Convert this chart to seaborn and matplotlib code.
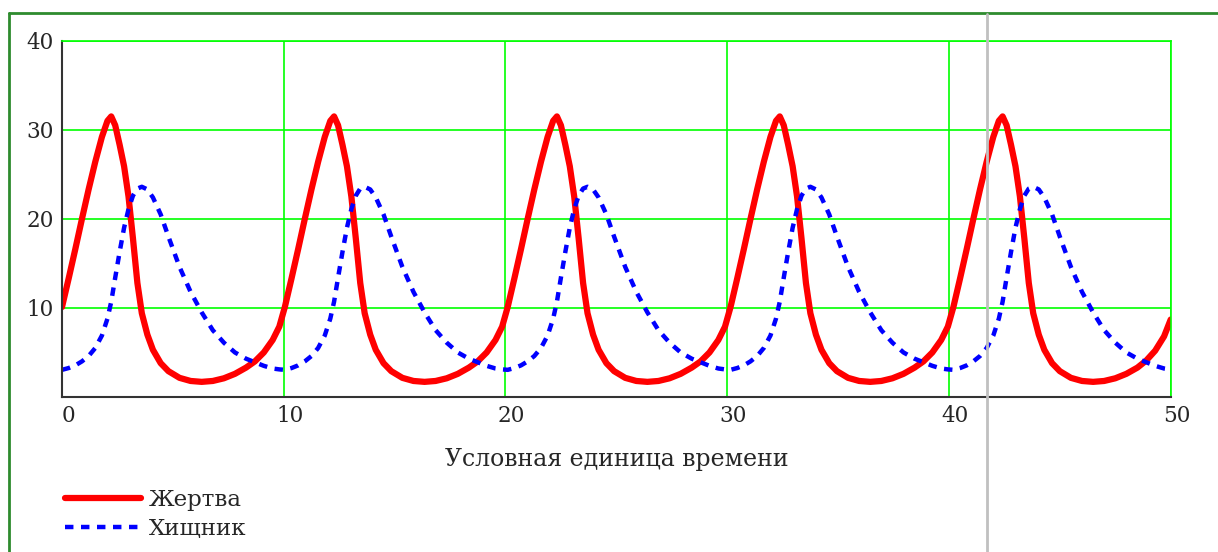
import pandas as pd
import seaborn as sns
import matplotlib.pyplot as plt
import matplotlib.transforms as mtransforms
from matplotlib.lines import Line2D

# time points (five cycles)
time = [
    0.00, 0.30, 0.60, 0.90, 1.20, 1.50, 1.80, 2.05, 2.22, 2.40, 2.60, 2.80, 3.00, 3.20, 3.40, 3.60,
    3.85, 4.10, 4.45, 4.80, 5.30, 5.80, 6.30, 6.80, 7.30, 7.80, 8.30, 8.70, 9.10, 9.50, 9.80,
    10.05, 10.35, 10.65, 10.95, 11.25, 11.55, 11.85, 12.10, 12.27, 12.45, 12.65, 12.85, 13.05, 13.25, 13.45, 13.65,
    13.90, 14.15, 14.50, 14.85, 15.35, 15.85, 16.35, 16.85, 17.35, 17.85, 18.35, 18.75, 19.15, 19.55, 19.85,
    20.10, 20.40, 20.70, 21.00, 21.30, 21.60, 21.90, 22.15, 22.32, 22.50, 22.70, 22.90, 23.10, 23.30, 23.50, 23.70,
    23.95, 24.20, 24.55, 24.90, 25.40, 25.90, 26.40, 26.90, 27.40, 27.90, 28.40, 28.80, 29.20, 29.60, 29.90,
    30.15, 30.45, 30.75, 31.05, 31.35, 31.65, 31.95, 32.20, 32.37, 32.55, 32.75, 32.95, 33.15, 33.35, 33.55, 33.75,
    34.00, 34.25, 34.60, 34.95, 35.45, 35.95, 36.45, 36.95, 37.45, 37.95, 38.45, 38.85, 39.25, 39.65, 39.95,
    40.20, 40.50, 40.80, 41.10, 41.40, 41.70, 42.00, 42.25, 42.42, 42.60, 42.80, 43.00, 43.20, 43.40, 43.60, 43.80,
    44.05, 44.30, 44.65, 45.00, 45.50, 46.00, 46.50, 47.00, 47.50, 48.00, 48.50, 48.90, 49.30, 49.70, 50.00,
]
prey = [
    10.1, 13.3, 16.6, 20.0, 23.3, 26.4, 29.2, 31.0, 31.5, 30.5, 28.3, 25.9, 22.5, 17.8, 12.8, 9.4,
    7.0, 5.3, 3.8, 2.9, 2.15, 1.8, 1.7, 1.8, 2.1, 2.6, 3.3, 4.0, 5.0, 6.4, 7.9,
    10.1, 13.3, 16.6, 20.0, 23.3, 26.4, 29.2, 31.0, 31.5, 30.5, 28.3, 25.9, 22.5, 17.8, 12.8, 9.4,
    7.0, 5.3, 3.8, 2.9, 2.15, 1.8, 1.7, 1.8, 2.1, 2.6, 3.3, 4.0, 5.0, 6.4, 7.9,
    10.1, 13.3, 16.6, 20.0, 23.3, 26.4, 29.2, 31.0, 31.5, 30.5, 28.3, 25.9, 22.5, 17.8, 12.8, 9.4,
    7.0, 5.3, 3.8, 2.9, 2.15, 1.8, 1.7, 1.8, 2.1, 2.6, 3.3, 4.0, 5.0, 6.4, 7.9,
    10.1, 13.3, 16.6, 20.0, 23.3, 26.4, 29.2, 31.0, 31.5, 30.5, 28.3, 25.9, 22.5, 17.8, 12.8, 9.4,
    7.0, 5.3, 3.8, 2.9, 2.15, 1.8, 1.7, 1.8, 2.1, 2.6, 3.3, 4.0, 5.0, 6.4, 7.9,
    10.1, 13.3, 16.6, 20.0, 23.3, 26.4, 29.2, 31.0, 31.5, 30.5, 28.3, 25.9, 22.5, 17.8, 12.8, 9.4,
    7.0, 5.3, 3.8, 2.9, 2.15, 1.8, 1.7, 1.8, 2.1, 2.6, 3.3, 4.1, 5.2, 6.8, 8.7,
]
predator = [
    3.05, 3.25, 3.55, 4.0, 4.6, 5.5, 6.9, 8.8, 10.7, 13.4, 16.3, 19.0, 21.1, 22.6, 23.4, 23.6,
    23.3, 22.4, 20.5, 18.0, 14.6, 11.8, 9.5, 7.5, 6.1, 5.0, 4.3, 3.9, 3.5, 3.2, 3.1,
    3.05, 3.25, 3.55, 4.0, 4.6, 5.5, 6.9, 8.8, 10.7, 13.4, 16.3, 19.0, 21.1, 22.6, 23.4, 23.6,
    23.3, 22.4, 20.5, 18.0, 14.6, 11.8, 9.5, 7.5, 6.1, 5.0, 4.3, 3.9, 3.5, 3.2, 3.1,
    3.05, 3.25, 3.55, 4.0, 4.6, 5.5, 6.9, 8.8, 10.7, 13.4, 16.3, 19.0, 21.1, 22.6, 23.4, 23.6,
    23.3, 22.4, 20.5, 18.0, 14.6, 11.8, 9.5, 7.5, 6.1, 5.0, 4.3, 3.9, 3.5, 3.2, 3.1,
    3.05, 3.25, 3.55, 4.0, 4.6, 5.5, 6.9, 8.8, 10.7, 13.4, 16.3, 19.0, 21.1, 22.6, 23.4, 23.6,
    23.3, 22.4, 20.5, 18.0, 14.6, 11.8, 9.5, 7.5, 6.1, 5.0, 4.3, 3.9, 3.5, 3.2, 3.1,
    3.05, 3.25, 3.55, 4.0, 4.6, 5.5, 6.9, 8.8, 10.7, 13.4, 16.3, 19.0, 21.1, 22.6, 23.4, 23.6,
    23.3, 22.4, 20.5, 18.0, 14.6, 11.8, 9.5, 7.5, 6.1, 5.0, 4.3, 3.9, 3.5, 3.2, 3.1,
]
x_ticks = [0, 10, 20, 30, 40, 50]
y_ticks = [10, 20, 30, 40]

df = pd.DataFrame({"t": time, "prey": prey, "predator": predator})

sns.set_style("white")
plt.rcParams["font.family"] = ["DejaVu Serif", "Liberation Serif"]

W, H = 1218, 552
fig = plt.figure(figsize=(W / 100, H / 100), dpi=100)
ax = fig.add_axes([62 / W, 1 - 397 / H, (1170.7 - 62) / W, (397 - 40.7) / H])

sns.lineplot(data=df, x="t", y="prey", ax=ax, color="#ff0000", lw=4.5,
             label="Жертва", solid_joinstyle="round")
sns.lineplot(data=df, x="t", y="predator", ax=ax, color="#0000ff", lw=3.2,
             label="Хищник")
ax.lines[1].set_dashes((1.9, 1.7))

ax.set_xlim(0, 50)
ax.set_ylim(0, 40)
ax.set_xticks(x_ticks)
ax.set_yticks(y_ticks)
ax.grid(True, color="#00ff00", lw=1.2)
ax.set_axisbelow(True)

for side in ["top", "right"]:
    ax.spines[side].set_color("#00ff00")
    ax.spines[side].set_linewidth(1.2)
for side in ["left", "bottom"]:
    ax.spines[side].set_color("#333333")
    ax.spines[side].set_linewidth(1.5)

ax.tick_params(direction="inout", length=6, width=1.2, color="#333333",
               labelsize=15.5, pad=3)
shift = mtransforms.ScaledTranslation(6 / 100, 0, fig.dpi_scale_trans)
for lab in ax.get_xticklabels():
    lab.set_transform(lab.get_transform() + shift)

ax.set_xlabel("Условная единица времени", fontsize=17, labelpad=15)
ax.set_ylabel("")

leg = ax.legend(loc="upper left", bbox_to_anchor=(65 / W, 1 - 489 / H),
                bbox_transform=fig.transFigure, frameon=False, fontsize=16.5,
                handlelength=3.3, handletextpad=0.35, labelspacing=0.32,
                borderpad=0, borderaxespad=0)

# outer frame and cursor line
fig.add_artist(Line2D([9 / W, 9 / W], [-0.1, 1 - 13 / H], transform=fig.transFigure,
                      color="#2e8b2e", lw=2))
fig.add_artist(Line2D([9 / W, 1.1], [1 - 13 / H, 1 - 13 / H], transform=fig.transFigure,
                      color="#2e8b2e", lw=2))
fig.add_artist(Line2D([987 / W, 987 / W], [-0.1, 1 - 14 / H], transform=fig.transFigure,
                      color="#c0c0c0", lw=2))

fig.savefig("out.png", dpi=100)
